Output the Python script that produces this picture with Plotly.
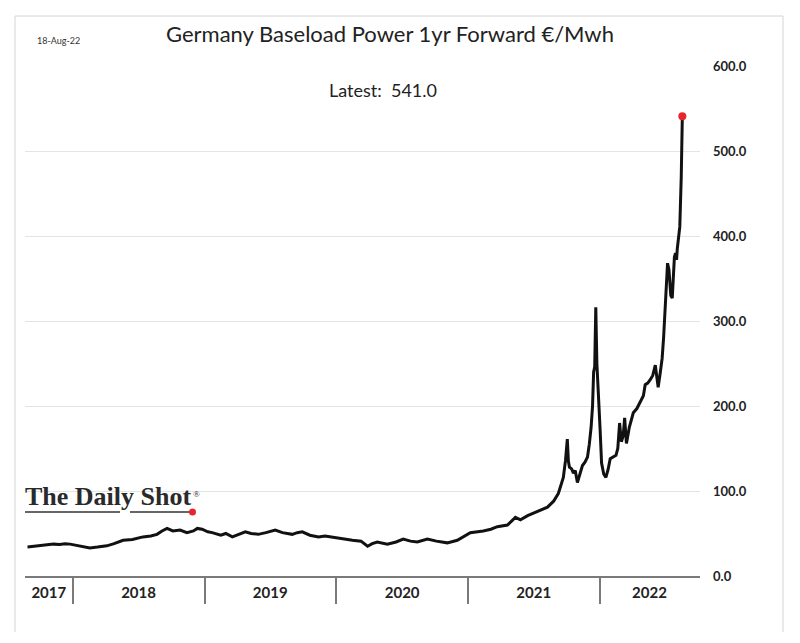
import plotly.graph_objects as go

# ---- data ----
dates = [
    "2017-08-28", "2017-09-15", "2017-10-03", "2017-10-20", "2017-11-08", "2017-11-25", "2017-12-10", "2017-12-24",
    "2018-01-20", "2018-02-17", "2018-03-10", "2018-04-05", "2018-04-25", "2018-05-20", "2018-06-15", "2018-07-14",
    "2018-08-05", "2018-08-22", "2018-09-05", "2018-09-19", "2018-10-05", "2018-10-25", "2018-11-13", "2018-12-01",
    "2018-12-12", "2018-12-25", "2019-01-10", "2019-01-22", "2019-02-15", "2019-03-01", "2019-03-19", "2019-04-05",
    "2019-04-24", "2019-05-10", "2019-05-30", "2019-06-20", "2019-07-16", "2019-08-05", "2019-09-01", "2019-09-15",
    "2019-09-29", "2019-10-20", "2019-11-13", "2019-12-01", "2019-12-30", "2020-01-20", "2020-02-15", "2020-03-10",
    "2020-03-28", "2020-04-10", "2020-04-24", "2020-05-22", "2020-06-15", "2020-07-05", "2020-07-25", "2020-08-13",
    "2020-09-10", "2020-10-05", "2020-11-04", "2020-12-02", "2020-12-20", "2021-01-07", "2021-02-12", "2021-03-05",
    "2021-03-23", "2021-04-20", "2021-05-12", "2021-05-26", "2021-06-15", "2021-07-01", "2021-07-20", "2021-08-09",
    "2021-08-26", "2021-09-08", "2021-09-14", "2021-09-22", "2021-09-28", "2021-10-03", "2021-10-06", "2021-10-09",
    "2021-10-15", "2021-10-20", "2021-10-25", "2021-10-31", "2021-11-07", "2021-11-14", "2021-11-21", "2021-11-28",
    "2021-12-03", "2021-12-08", "2021-12-12", "2021-12-15", "2021-12-18", "2021-12-21", "2021-12-24", "2021-12-28",
    "2022-01-02", "2022-01-06", "2022-01-12", "2022-01-18", "2022-01-24", "2022-01-30", "2022-02-08", "2022-02-15",
    "2022-02-20", "2022-02-25", "2022-03-02", "2022-03-07", "2022-03-11", "2022-03-16", "2022-03-24", "2022-04-04",
    "2022-04-14", "2022-04-23", "2022-05-02", "2022-05-07", "2022-05-14", "2022-05-21", "2022-05-28", "2022-06-04",
    "2022-06-09", "2022-06-12", "2022-06-18", "2022-06-23", "2022-06-27", "2022-07-01", "2022-07-05", "2022-07-08",
    "2022-07-12", "2022-07-17", "2022-07-21", "2022-07-24", "2022-07-27", "2022-07-30", "2022-08-02", "2022-08-04",
    "2022-08-09", "2022-08-11", "2022-08-15", "2022-08-18",
]
values = [
    34, 35, 36, 36.5, 37.5, 37, 38, 37.5,
    35, 33, 34, 35.5, 38, 42, 43, 46,
    47, 49, 53, 56, 53, 54, 51, 53,
    56, 55, 52, 51, 48, 50, 46, 49,
    52, 50, 49, 51, 54, 51, 49, 51,
    52, 48, 46, 47, 45, 44, 42, 41,
    35, 38, 40, 37.5, 40, 43.5, 41, 40,
    43.5, 41, 39, 42, 47, 51, 53, 55,
    58, 60, 69, 66, 71, 74, 77, 81,
    88, 97, 105, 116, 136, 161, 135, 128,
    126, 121, 124, 110, 120, 130, 134, 140,
    155, 175, 200, 240, 246, 316, 250, 205,
    172, 133, 120, 116, 125, 138, 140, 142,
    150, 180, 158, 165, 186, 156, 175, 192,
    197, 204, 212, 225, 227, 231, 236, 248,
    232, 222, 240, 256, 280, 310, 350, 368,
    360, 330, 327, 360, 375, 380, 372, 385,
    405, 411, 470, 541,
]

x_range = ["2017-08-21", "2022-10-06"]
year_label_dates = ["2017-10-26", "2018-07-02", "2019-07-02", "2020-07-02", "2021-07-02", "2022-05-19"]
year_labels = ["2017", "2018", "2019", "2020", "2021", "2022"]
year_boundaries = ["2018-01-01", "2019-01-01", "2020-01-01", "2021-01-01", "2022-01-01"]
y_ticks = [0, 100, 200, 300, 400, 500, 600]

title = "Germany Baseload Power 1yr Forward €/Mwh"
date_stamp = "18-Aug-22"
logo = "The Daily Shot"

# ---- layout geometry (pixels) ----
W, H = 800, 643
L, R, T, B = 25, 700, 66, 576


def px(x):
    return (x - L) / (R - L)


def py(y):
    return (B - y) / (B - T)


FONT = "Lato"

fig = go.Figure()
fig.add_trace(go.Scatter(
    x=dates, y=values, mode="lines",
    line=dict(color="#111111", width=3),
    hoverinfo="skip", showlegend=False,
))
fig.add_trace(go.Scatter(
    x=[dates[-1]], y=[values[-1]], mode="markers",
    marker=dict(color="#e8262a", size=8),
    hoverinfo="skip", showlegend=False,
))

fig.update_layout(
    width=W, height=H,
    margin=dict(l=L, r=W - R, t=T, b=H - B, pad=0),
    paper_bgcolor="white", plot_bgcolor="white",
    font=dict(family=FONT, color="#222222"),
    xaxis=dict(
        type="date", range=x_range,
        showgrid=False, zeroline=False,
        showline=True, linecolor="#7a7a7a", linewidth=2,
        tickmode="array", tickvals=year_label_dates, ticktext=year_labels,
        ticks="", tickfont=dict(family=FONT, size=15, color="#222222", weight="bold"),
        ticklabelstandoff=2,
        minor=dict(tickmode="array", tickvals=year_boundaries, ticks="outside",
                   ticklen=26, tickcolor="#7a7a7a", tickwidth=1.5, showgrid=False),
    ),
    yaxis=dict(
        side="right", range=[0, 600],
        tickmode="array", tickvals=y_ticks, ticktext=[f"{v:.1f}" for v in y_ticks],
        showgrid=True, gridcolor="#e4e4e4", gridwidth=1,
        zeroline=False, showline=False, ticks="",
        tickfont=dict(family=FONT, size=13, color="#222222", weight="bold"),
        ticklabelstandoff=12,
    ),
)

annotations = [
    dict(text=title, x=px(390), y=py(33), xref="paper", yref="paper",
         showarrow=False, font=dict(family=FONT, size=22, color="#222222"),
         xanchor="center", yanchor="middle"),
    dict(text=date_stamp, x=px(35), y=py(41), xref="paper", yref="paper",
         showarrow=False, font=dict(family=FONT, size=9, color="#333333"),
         xanchor="left", yanchor="middle"),
    dict(text=f"Latest:  {values[-1]:.1f}", x=px(383), y=py(90), xref="paper", yref="paper",
         showarrow=False, font=dict(family=FONT, size=18, color="#222222"),
         xanchor="center", yanchor="middle"),
    dict(text=logo, x=px(23), y=py(513), xref="paper", yref="paper",
         showarrow=False, font=dict(family="Liberation Serif", size=26, color="#2a2a2a", weight="bold"),
         xanchor="left", yanchor="bottom"),
    dict(text="®", x=px(191), y=py(494), xref="paper", yref="paper",
         showarrow=False, font=dict(family="Liberation Serif", size=9, color="#1e1e1e"),
         xanchor="left", yanchor="middle"),
]
fig.update_layout(annotations=annotations)

shapes = [
    # hide the central part of the top gridline (behind title block)
    dict(type="rect", xref="paper", yref="paper", x0=px(263), x1=px(503), y0=py(62), y1=py(70),
         fillcolor="white", line=dict(width=0), layer="above"),
    # hide gridline behind logo
    dict(type="rect", xref="paper", yref="paper", x0=px(20), x1=px(205), y0=py(486), y1=py(496),
         fillcolor="white", line=dict(width=0), layer="between"),
    # logo underlines and dot
    dict(type="line", xref="paper", yref="paper", x0=px(25), x1=px(120), y0=py(512), y1=py(512),
         line=dict(color="#333333", width=1.5), layer="above"),
    dict(type="line", xref="paper", yref="paper", x0=px(130), x1=px(192), y0=py(512), y1=py(512),
         line=dict(color="#333333", width=1.5), layer="above"),
    dict(type="circle", xref="paper", yref="paper", x0=px(189), x1=px(196), y0=py(508.5), y1=py(515.5),
         fillcolor="#e8262a", line=dict(width=0), layer="above"),
    # frame
    dict(type="line", xref="paper", yref="paper", x0=px(15), x1=px(783), y0=py(16), y1=py(16),
         line=dict(color="#d4d4d4", width=1)),
    dict(type="line", xref="paper", yref="paper", x0=px(15), x1=px(15), y0=py(16), y1=py(632),
         line=dict(color="#d4d4d4", width=1)),
    dict(type="line", xref="paper", yref="paper", x0=px(783), x1=px(783), y0=py(16), y1=py(632),
         line=dict(color="#d4d4d4", width=1)),
]
fig.update_layout(shapes=shapes)

fig.write_html("out.html")
